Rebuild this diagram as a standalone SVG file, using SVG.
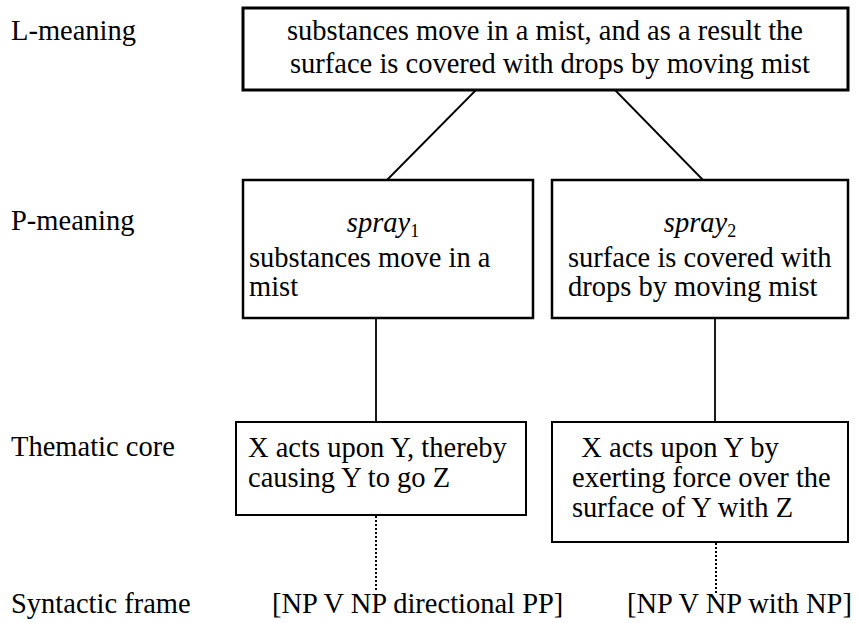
<svg xmlns="http://www.w3.org/2000/svg" width="859" height="623" viewBox="0 0 859 623">
<style>
text{font-family:"Liberation Serif","Times New Roman",serif;font-size:28.5px;fill:#000}
.box{fill:#fff;stroke:#000}
.b1{stroke-width:3}
.b2{stroke-width:2.5}
.b3{stroke-width:2}
.ln{stroke:#000;stroke-width:1.8;fill:none}
.dot{stroke:#000;stroke-width:2;stroke-dasharray:2 2;fill:none}
.it{font-style:italic}
.sub{font-size:18px;font-style:normal}
.mid{text-anchor:middle}
</style>
<rect width="859" height="623" fill="#fff"/>
<g id="labels">
<text x="11" y="40">L-meaning</text>
<text x="11" y="230">P-meaning</text>
<text x="11" y="456">Thematic core</text>
<text x="11" y="613">Syntactic frame</text>
</g>
<g id="connectors">
<line class="ln" x1="476" y1="90" x2="387" y2="180"/>
<line class="ln" x1="615" y1="90" x2="703" y2="180"/>
<line class="ln" x1="376" y1="318" x2="376" y2="422"/>
<line class="ln" x1="715" y1="318" x2="715" y2="422"/>
<line class="dot" x1="376" y1="516" x2="376" y2="592"/>
<line class="dot" x1="716" y1="543" x2="716" y2="594"/>
</g>
<g id="l-meaning">
<rect class="box b1" x="243" y="8" width="605" height="82"/>
<text class="mid" x="545" y="40">substances move in a mist, and as a result the</text>
<text class="mid" x="550" y="73">surface is covered with drops by moving mist</text>
</g>
<g id="spray1">
<rect class="box b2" x="243" y="180" width="290" height="138"/>
<text class="mid" x="383" y="232"><tspan class="it">spray</tspan><tspan class="sub" dy="5">1</tspan></text>
<text x="249" y="267">substances move in a</text>
<text x="249" y="296">mist</text>
</g>
<g id="spray2">
<rect class="box b2" x="552" y="180" width="296" height="138"/>
<text class="mid" x="700" y="232"><tspan class="it">spray</tspan><tspan class="sub" dy="5">2</tspan></text>
<text x="568" y="267">surface is covered with</text>
<text x="568" y="296">drops by moving mist</text>
</g>
<g id="core1">
<rect class="box b3" x="236" y="422" width="290" height="93"/>
<text x="248" y="457">X acts upon Y, thereby</text>
<text x="248" y="487">causing Y to go Z</text>
</g>
<g id="core2">
<rect class="box b3" x="552" y="422" width="296" height="120"/>
<text class="mid" x="680" y="457">X acts upon Y by</text>
<text x="572" y="487">exerting force over the</text>
<text x="572" y="517">surface of Y with Z</text>
</g>
<g id="frames">
<text x="272" y="613">[NP V NP directional PP]</text>
<text x="627" y="613">[NP V NP with NP]</text>
</g>
</svg>
